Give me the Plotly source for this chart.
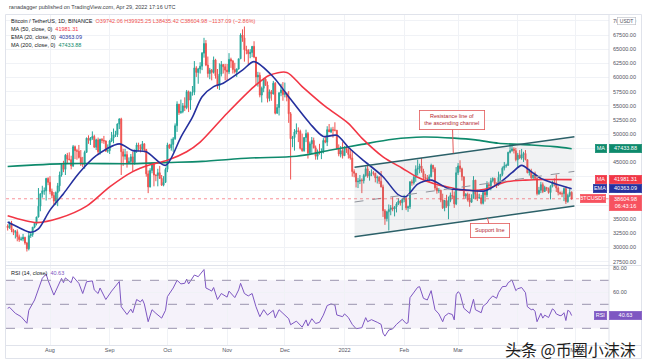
import plotly.graph_objects as go
import pandas as pd

W, H = 645, 361
def px(x): return x / W
def py(y): return 1 - y / H

# ---------------- data (thousand USDT) ----------------
first_open = 33.8
closes = [
    # Jul 10-31 2021
    33.5,34.3,33.1,32.7,32.8,31.9,31.4,31.5,31.8,30.8,29.8,32.1,32.3,33.6,34.3,35.4,37.3,39.5,40.0,40.0,42.2,41.5,
    # Aug
    39.9,39.2,38.2,39.7,40.9,42.8,44.6,43.8,46.3,45.6,45.5,44.4,47.8,47.1,47.0,45.9,44.7,44.7,46.8,49.3,48.9,49.3,49.6,47.7,49.0,46.9,49.1,48.9,48.8,47.0,47.1,
    # Sep
    48.8,49.3,49.9,49.9,51.8,52.7,46.9,46.1,46.4,44.9,45.2,46.0,45.0,47.1,48.1,47.8,47.3,48.3,47.3,43.0,40.7,43.6,44.9,42.8,42.7,43.2,42.2,41.0,41.5,43.8,
    # Oct
    48.1,47.6,48.2,49.2,51.5,55.3,53.8,54.0,55.0,54.7,57.5,56.0,57.4,57.4,61.7,60.9,61.5,62.0,64.3,66.0,62.2,60.7,61.3,60.9,63.1,60.3,58.5,60.6,62.3,61.9,61.3,
    # Nov
    61.0,63.2,62.9,61.4,61.0,61.5,63.3,67.5,67.0,64.9,64.8,64.2,64.4,65.5,63.6,60.1,60.4,56.9,58.1,59.7,58.7,56.3,57.5,57.1,59.0,53.7,54.7,57.3,57.8,57.0,
    # Dec
    57.2,56.5,53.6,49.2,49.4,50.4,50.6,50.5,47.5,47.1,49.4,50.1,46.7,48.3,48.9,47.6,46.1,46.8,46.7,46.9,48.9,48.6,50.8,50.4,50.8,50.7,50.7,47.5,46.5,47.1,46.2,
    # Jan 2022
    47.7,47.3,46.4,45.8,43.4,43.1,41.6,41.7,41.9,41.8,42.7,43.9,42.6,43.1,43.2,43.1,42.3,42.4,41.7,40.7,36.5,35.1,36.3,36.7,37.0,36.8,37.2,37.7,38.2,37.9,38.5,
    # Feb
    38.7,37.0,37.2,41.6,41.4,42.4,43.8,44.0,44.4,43.5,42.4,42.2,42.1,42.5,44.5,43.9,40.5,40.0,40.1,38.4,37.0,38.3,37.3,38.3,39.2,39.1,37.7,43.2,
    # Mar
    44.4,43.9,42.5,39.1,39.4,38.4,38.0,38.7,41.9,39.4,38.7,38.8,37.8,39.7,39.3,41.1,40.9,41.8,42.2,41.3,41.0,42.4,42.9,44.0,44.4,44.5,46.8,47.1,47.4,47.1,45.5,
    # Apr
    46.3,45.8,46.4,46.6,45.5,43.2,43.4,42.3,42.8,42.2,39.5,40.1,41.1,39.9,40.6,40.4,39.7,40.8,41.5,41.4,40.5,39.7,39.5,39.5,40.4,38.1,39.2,39.742,38.605,
]
highs = [
    34.1,34.6,34.7,33.3,33.1,33.2,32.3,31.9,32.4,31.9,31.0,32.8,32.6,33.6,34.5,35.4,40.5,39.5,40.9,40.6,42.3,42.4,
    42.6,40.4,39.8,39.9,41.4,43.4,44.7,45.3,46.5,46.7,46.8,46.2,48.1,48.0,47.4,48.1,47.2,46.0,47.1,49.4,49.8,49.5,50.5,49.9,49.2,49.4,49.2,49.3,49.7,48.9,48.2,
    49.0,50.4,51.0,50.6,51.9,52.8,52.9,47.4,47.4,47.0,45.9,46.5,46.9,47.3,48.5,48.5,48.2,48.8,48.4,47.4,43.6,44.0,45.0,45.0,42.9,43.9,44.4,42.8,42.6,44.1,
    48.5,48.3,49.2,49.5,51.9,55.8,55.3,56.1,55.5,56.5,57.8,57.7,57.5,58.5,62.9,62.0,61.7,62.7,64.5,67.0,66.6,63.7,61.7,61.5,63.7,63.3,61.5,62.5,62.9,62.3,62.4,
    62.4,64.3,63.5,63.1,62.6,61.6,63.3,67.8,68.5,69.0,65.6,65.0,65.0,65.5,66.4,63.6,61.0,60.9,58.4,59.8,60.0,59.3,57.9,57.8,59.4,59.2,55.3,57.4,58.9,59.2,
    59.1,57.4,57.6,53.9,49.7,50.9,51.9,51.2,50.8,50.1,49.5,50.8,50.4,48.7,49.5,49.4,48.0,47.3,48.3,47.5,49.3,49.6,51.4,51.8,51.2,51.3,52.1,50.7,48.2,47.9,48.6,
    47.9,47.9,47.6,47.5,47.1,43.8,43.1,42.3,42.8,42.2,43.0,44.3,44.5,43.5,43.8,43.5,43.2,42.7,42.6,43.5,41.1,36.8,36.5,37.6,37.5,38.9,37.3,38.0,38.7,38.4,38.7,
    39.3,38.9,37.4,41.7,42.0,42.7,44.5,45.5,44.8,45.8,43.9,43.0,42.8,42.9,44.8,44.6,44.2,40.9,40.5,40.2,39.5,38.4,39.3,39.0,39.7,40.3,39.9,44.2,
    44.9,45.4,44.1,42.5,39.6,39.7,39.5,39.4,42.6,41.9,40.2,39.5,39.3,39.9,39.9,41.7,41.5,42.3,42.4,42.3,41.5,43.4,43.0,44.3,45.1,44.8,46.9,48.2,48.1,47.7,47.6,
    46.7,47.2,47.4,46.9,47.2,45.5,43.9,43.9,42.8,43.4,42.4,40.7,41.6,41.5,40.9,40.7,40.6,41.0,41.8,42.2,42.9,40.8,39.9,39.9,40.6,40.8,39.5,40.4,39.925,
]
lows = [
    33.0,33.3,32.7,32.2,31.6,31.1,31.0,31.2,31.1,30.5,29.3,29.5,31.7,31.9,33.4,33.9,35.3,36.4,38.8,39.3,38.3,41.0,
    39.4,38.7,37.6,37.5,37.3,39.9,42.5,43.3,42.8,44.8,45.4,43.8,44.2,45.6,45.5,45.7,44.4,44.2,43.9,46.7,48.3,48.1,49.0,47.6,47.2,46.3,46.4,48.4,48.3,46.9,46.7,
    46.5,48.6,48.4,49.5,49.5,50.9,42.8,44.4,45.5,44.1,44.7,44.7,43.4,44.6,46.7,47.0,46.8,47.1,46.8,42.5,39.6,40.6,43.1,40.8,41.7,40.8,42.1,40.9,40.8,41.4,
    43.3,47.4,47.1,46.9,49.0,50.4,53.4,53.6,53.7,54.1,54.4,53.9,54.3,56.8,56.9,60.1,58.9,60.7,61.3,63.5,62.0,60.0,59.7,59.5,60.7,59.8,58.0,57.8,60.2,60.7,59.5,
    59.4,60.6,61.7,60.7,60.7,60.1,61.4,63.3,66.3,62.8,64.1,62.3,63.4,63.6,63.4,58.6,58.4,56.5,55.6,57.4,58.5,55.6,55.8,55.9,57.0,53.5,53.6,53.3,56.7,55.9,
    56.5,55.8,52.0,42.0,47.7,47.1,50.0,48.6,47.3,46.9,46.9,48.6,45.7,46.3,46.5,47.5,45.5,45.5,46.4,45.6,46.6,48.4,47.9,50.4,50.2,49.4,50.5,47.3,46.1,45.9,45.7,
    46.2,46.7,45.7,45.5,42.5,42.4,40.6,40.5,41.2,39.6,41.3,42.5,42.3,41.8,42.6,42.7,41.5,41.3,41.2,40.6,35.4,34.0,34.6,33.0,35.7,36.4,35.5,36.2,37.5,37.4,36.6,
    38.0,36.6,36.3,36.8,40.9,41.1,41.6,42.7,43.1,43.2,41.9,41.7,41.9,41.6,42.4,43.3,40.1,39.5,39.6,38.0,36.8,36.4,37.0,35.0,38.0,38.6,37.0,37.5,
    42.8,43.3,41.8,38.6,38.6,38.1,37.2,37.9,38.7,38.5,38.2,38.7,37.6,37.6,38.1,38.9,40.5,40.1,41.5,40.9,40.5,40.9,41.8,42.6,43.6,44.1,44.4,46.6,46.9,46.6,45.2,
    44.2,45.6,45.5,45.1,45.4,43.1,42.7,42.1,42.1,41.9,39.2,39.3,39.6,39.6,39.8,40.0,39.5,38.5,40.6,40.8,39.8,39.2,39.3,38.9,38.2,37.7,37.9,38.9,38.435,
]
assert len(closes) == len(highs) == len(lows) == 294

ema20_dates = ["2021-07-10","2021-07-16","2021-07-22","2021-07-26","2021-08-01","2021-08-08","2021-08-16","2021-08-25",
               "2021-09-06","2021-09-13","2021-09-20","2021-09-30","2021-10-08","2021-10-14","2021-10-19","2021-10-25",
               "2021-10-30","2021-11-09","2021-11-15","2021-11-25","2021-12-03","2021-12-14","2021-12-21","2021-12-28",
               "2022-01-03","2022-01-10","2022-01-21","2022-01-29","2022-02-02","2022-02-08","2022-02-15","2022-02-24",
               "2022-03-04","2022-03-15","2022-03-22","2022-03-29","2022-04-03","2022-04-08","2022-04-13","2022-04-20","2022-04-29"]
ema20_vals = [34.5,33.5,32.7,33.3,36.6,39.5,43.1,46.2,
              48.3,47.1,46.9,44.5,49.5,53.0,56.6,58.4,
              59.0,61.3,62.8,60.1,56.6,51.9,49.6,49.8,
              47.7,45.6,42.5,39.3,39.0,41.2,41.9,40.4,
              40.2,40.0,41.3,43.2,44.5,43.4,42.2,41.3,40.363]

ma50_dates = ["2021-07-10","2021-07-25","2021-08-06","2021-08-20","2021-09-01","2021-09-13","2021-09-22","2021-10-01",
              "2021-10-11","2021-10-18","2021-11-01","2021-11-15","2021-11-23","2021-12-02","2021-12-10","2021-12-22",
              "2022-01-03","2022-01-10","2022-01-21","2022-01-31","2022-02-08","2022-02-17","2022-02-26","2022-03-04",
              "2022-03-15","2022-03-26","2022-04-05","2022-04-15","2022-04-29"]
ma50_vals = [35.6,34.4,35.2,37.3,40.7,43.4,44.6,45.4,
             46.9,48.6,53.7,58.4,60.4,60.9,58.4,54.9,
             51.9,49.3,46.0,44.0,42.4,41.2,40.5,40.1,
             40.3,41.6,41.9,42.0,41.981]

ma200_dates = ["2021-07-10","2021-08-09","2021-09-13","2021-10-01","2021-10-19","2021-11-13","2021-12-07","2021-12-25",
               "2022-01-10","2022-01-26","2022-02-11","2022-02-27","2022-03-10","2022-03-22","2022-04-08","2022-04-20","2022-04-29"]
ma200_vals = [44.3,44.8,44.8,45.0,45.2,45.8,46.1,47.2,
              48.2,49.1,49.5,49.3,49.0,48.4,48.1,47.8,47.434]

rsi_dates = ["2021-07-10","2021-07-11","2021-07-14","2021-07-17","2021-07-20","2021-07-21","2021-07-24","2021-07-26","2021-07-28","2021-07-30",
    "2021-07-31","2021-08-03","2021-08-05","2021-08-07","2021-08-08","2021-08-09","2021-08-12","2021-08-13","2021-08-16","2021-08-18",
    "2021-08-20","2021-08-23","2021-08-24","2021-08-26","2021-08-27","2021-08-30","2021-09-02","2021-09-04","2021-09-06","2021-09-07",
    "2021-09-10","2021-09-12","2021-09-13","2021-09-15","2021-09-17","2021-09-18","2021-09-19","2021-09-21","2021-09-23","2021-09-25",
    "2021-09-28","2021-09-30","2021-10-01","2021-10-04","2021-10-06","2021-10-08","2021-10-10","2021-10-11","2021-10-12","2021-10-15",
    "2021-10-17","2021-10-20","2021-10-21","2021-10-23","2021-10-24","2021-10-25","2021-10-27","2021-10-29","2021-11-01","2021-11-02",
    "2021-11-05","2021-11-07","2021-11-08","2021-11-10","2021-11-12","2021-11-14","2021-11-16","2021-11-18","2021-11-20","2021-11-22",
    "2021-11-25","2021-11-26","2021-11-28","2021-11-30","2021-12-03","2021-12-04","2021-12-07","2021-12-10","2021-12-12","2021-12-13",
    "2021-12-15","2021-12-17","2021-12-19","2021-12-21","2021-12-23","2021-12-25","2021-12-27","2021-12-28","2021-12-31","2022-01-01",
    "2022-01-03","2022-01-05","2022-01-07","2022-01-10","2022-01-12","2022-01-13","2022-01-15","2022-01-18","2022-01-20","2022-01-21",
    "2022-01-22","2022-01-24","2022-01-26","2022-01-28","2022-01-31","2022-02-02","2022-02-03","2022-02-04","2022-02-06","2022-02-08",
    "2022-02-09","2022-02-11","2022-02-13","2022-02-15","2022-02-17","2022-02-19","2022-02-21","2022-02-22","2022-02-24","2022-02-26",
    "2022-02-27","2022-02-28","2022-03-01","2022-03-02","2022-03-04","2022-03-07","2022-03-09","2022-03-10","2022-03-13","2022-03-14",
    "2022-03-16","2022-03-17","2022-03-19","2022-03-21","2022-03-22","2022-03-24","2022-03-26","2022-03-27","2022-03-29","2022-03-31",
    "2022-04-01","2022-04-03","2022-04-05","2022-04-06","2022-04-08","2022-04-09","2022-04-10","2022-04-11","2022-04-13","2022-04-14",
    "2022-04-15","2022-04-17","2022-04-19","2022-04-20","2022-04-21","2022-04-23","2022-04-24","2022-04-25","2022-04-26","2022-04-27",
    "2022-04-28","2022-04-29"]
rsi_vals = [46.7,47.5,42.5,39.7,34.2,45,53.6,62,71.7,75.2,
    70,57.7,64.7,71.6,68,72,68,73,67.5,59,
    68.8,69.5,62,59,63.6,54,61,64.7,69,48,
    41.5,46,43,54,52,54,50.3,35.5,45.5,42.5,
    38.5,45,56.4,63.6,70,67,67.5,71,67,74.4,
    73,79,63.6,62,61,64,54,59,56,61,
    55.6,62,67.5,59,57,59,48,39.7,45.5,41,
    45,38.7,45.5,42.5,38,33,36,31,37,32,
    38,34,35,41,49,50.3,49.4,41.1,39.7,42,
    39,33.3,29.7,30.5,38.9,35.5,37.2,35,33.3,26,
    23.5,28.6,29.5,33.3,37.5,34,34.7,55.5,59.7,64.2,
    64.7,55,53.6,61.4,45.5,42,35.5,40,42.5,41.5,
    37,58,60.5,59,46.7,42.5,54.2,45.5,43,48.5,
    51,53.6,57,55,59.7,64.7,65,68,70.3,61.4,
    63,64,59.7,48,45.5,46,44,35.5,42.5,38.5,
    41,39,46.2,45,42,40.5,41,43,36.5,45,
    44,40.63]
assert len(rsi_dates) == len(rsi_vals)

month_ticks = ["2021-08-01","2021-09-01","2021-10-01","2021-11-01","2021-12-01","2022-01-01",
               "2022-02-01","2022-03-01","2022-04-01","2022-05-01"]
month_labels = ["Aug","Sep","Oct","Nov","Dec","2022","Feb","Mar","Apr","May"]
price_ticks = list(range(27500, 70001, 2500))

# channel drawing anchors (date, price)
chan_dates = ["2022-01-06 05:00", "2022-04-30 10:00"]
chan_top = [44158, 49557]
chan_bot = [31914, 37331]

last = dict(o="39742.06", h="39925.25", l="38435.42", c="38604.98", chg="\u22121137.09 (\u22122.86%)")
last_close = 38604.98
ma50_last, ema20_last, ma200_last, rsi_last = 41981.31, 40363.09, 47433.88, 40.63

# ---------------- build ----------------
K = 1000.0
dates = pd.date_range("2021-07-10", periods=len(closes), freq="D")
c = [v * K for v in closes]
o = [first_open * K] + c[:-1]
hi = [max(a * K, b, d) for a, b, d in zip(highs, o, c)]
lo = [min(a * K, b, d) for a, b, d in zip(lows, o, c)]

UP, DN = "#26a69a", "#ef5350"
RED, BLUE, GREEN, PURPLE = "#f23645", "#25309e", "#0e8a6c", "#7e57c2"
FONT = "Liberation Sans"

fig = go.Figure()

fig.add_trace(go.Scatter(x=[chan_dates[0], chan_dates[1], chan_dates[1], chan_dates[0]],
                         y=[chan_top[0], chan_top[1], chan_bot[1], chan_bot[0]],
                         fill="toself", fillcolor="rgba(140,146,160,0.12)", mode="none",
                         xaxis="x", yaxis="y", hoverinfo="skip"))

fig.add_trace(go.Candlestick(x=dates, open=o, high=hi, low=lo, close=c,
                             increasing=dict(line=dict(color=UP, width=1), fillcolor=UP),
                             decreasing=dict(line=dict(color=DN, width=1), fillcolor=DN),
                             whiskerwidth=0, xaxis="x", yaxis="y", hoverinfo="skip"))

fig.add_trace(go.Scatter(x=ma200_dates, y=[v * K for v in ma200_vals], mode="lines",
                         line=dict(color=GREEN, width=1.6, shape="spline", smoothing=0.8), xaxis="x", yaxis="y"))
fig.add_trace(go.Scatter(x=ma50_dates, y=[v * K for v in ma50_vals], mode="lines",
                         line=dict(color=RED, width=1.6, shape="spline", smoothing=0.8), xaxis="x", yaxis="y"))
fig.add_trace(go.Scatter(x=ema20_dates, y=[v * K for v in ema20_vals], mode="lines",
                         line=dict(color=BLUE, width=1.6, shape="spline", smoothing=0.8), xaxis="x", yaxis="y"))

mid = [(a + b) / 2 for a, b in zip(chan_top, chan_bot)]
fig.add_trace(go.Scatter(x=chan_dates, y=chan_top, mode="lines", line=dict(color="#2b6068", width=1.5), xaxis="x", yaxis="y"))
fig.add_trace(go.Scatter(x=chan_dates, y=chan_bot, mode="lines", line=dict(color="#2b6068", width=1.5), xaxis="x", yaxis="y"))
fig.add_trace(go.Scatter(x=chan_dates, y=mid, mode="lines", line=dict(color="#8f939c", width=1, dash="dash"), xaxis="x", yaxis="y"))

fig.add_trace(go.Scatter(x=rsi_dates, y=rsi_vals, mode="lines", line=dict(color=PURPLE, width=1),
                         xaxis="x2", yaxis="y2"))

xrange = ["2021-07-09 03:26", "2022-05-18 09:26"]
grid = "#f0f2f6"
tickfont = dict(family=FONT, size=5.5, color="#50535e")

fig.update_layout(
    width=W, height=H, margin=dict(l=0, r=0, t=0, b=0, autoexpand=False),
    paper_bgcolor="white", plot_bgcolor="white", showlegend=False, hovermode=False,
    xaxis=dict(domain=[px(6), px(609)], range=xrange, type="date", tickvals=month_ticks,
               showticklabels=False, showgrid=True, gridcolor=grid, zeroline=False,
               rangeslider=dict(visible=False), anchor="y", automargin=False),
    yaxis=dict(domain=[py(265), py(15)], range=[26921, 71029], side="right", tickvals=price_ticks,
               tickformat=".2f", showgrid=True, gridcolor=grid, zeroline=False, tickfont=tickfont,
               anchor="x", ticks="", ticklabelstandoff=3, automargin=False),
    xaxis2=dict(domain=[px(6), px(609)], range=xrange, type="date", tickvals=month_ticks,
                ticktext=month_labels, showgrid=True, gridcolor=grid, zeroline=False,
                tickfont=tickfont, anchor="y2", ticks="", automargin=False),
    yaxis2=dict(domain=[py(345), py(265)], range=[16.1, 82.75], side="right", tickvals=[60, 80],
                tickformat=".2f", showgrid=True, gridcolor=grid, zeroline=False, tickfont=tickfont,
                anchor="x2", ticks="", ticklabelstandoff=3, automargin=False),
)

shapes = [
    dict(type="rect", xref="x2 domain", yref="y2", x0=0, x1=1, y0=30, y1=70,
         fillcolor="rgba(126,87,194,0.08)", line=dict(width=0), layer="below"),
]
for lvl in (70, 50, 30):
    shapes.append(dict(type="line", xref="x2 domain", yref="y2", x0=0, x1=1, y0=lvl, y1=lvl,
                       line=dict(color="#9a94ae", width=1, dash="dash")))
shapes.append(dict(type="line", xref="x domain", yref="y", x0=0, x1=1, y0=last_close, y1=last_close,
                   line=dict(color="rgba(242,54,69,0.55)", width=1, dash="dot")))
bc = "#e0e3eb"
shapes += [
    dict(type="rect", xref="paper", yref="paper", x0=px(5.5), x1=px(641.5), y0=py(358.5), y1=py(14.5),
         line=dict(color=bc, width=1)),
    dict(type="line", xref="paper", yref="paper", x0=px(5.5), x1=px(641.5), y0=py(265.5), y1=py(265.5),
         line=dict(color=bc, width=1)),
    dict(type="line", xref="paper", yref="paper", x0=px(5.5), x1=px(641.5), y0=py(345.5), y1=py(345.5),
         line=dict(color=bc, width=1)),
    dict(type="line", xref="paper", yref="paper", x0=px(609), x1=px(609), y0=py(358.5), y1=py(14.5),
         line=dict(color=bc, width=1)),
]
fig.update_layout(shapes=shapes)

ann = []
def text(x, y, t, size=5.5, color="#131722", anchor="left", family=FONT, **kw):
    ann.append(dict(xref="paper", yref="paper", x=px(x), y=py(y), text=t, showarrow=False,
                    xanchor=anchor, yanchor="middle", font=dict(family=family, size=size, color=color), **kw))

text(7, 7, "ranadagger published on TradingView.com, Apr 29, 2022 17:16 UTC", size=5.5, color="#3d3f47")
text(9, 21, "Bitcoin / TetherUS, 1D, BINANCE  <span style='color:%s'>O%s H%s L%s C%s %s</span>"
     % (DN, last["o"], last["h"], last["l"], last["c"], last["chg"]), size=5.5)
text(9, 29, "MA (50, close, 0)  <span style='color:%s'>%.2f</span>" % (RED, ma50_last), size=5.5)
text(9, 37, "EMA (20, close, 0)  <span style='color:%s'>%.2f</span>" % (BLUE, ema20_last), size=5.5)
text(9, 45, "MA (200, close, 0)  <span style='color:%s'>%.2f</span>" % (GREEN, ma200_last), size=5.5)
text(9, 273, "RSI (14, close)  <span style='color:%s'>%.2f</span>" % (PURPLE, rsi_last), size=5.5)

ann.append(dict(xref="paper", yref="paper", x=px(570), y=py(349), text="头条 @币圈小沫沫", showarrow=False,
                xanchor="center", yanchor="middle",
                font=dict(family="Noto Sans CJK SC", size=16, color="#1c1c1c")))

def badge(xc, w, yval, yref, t, bg, h=7.5, fc="white", yanchor="middle", yshift=0, border=None):
    ann.append(dict(xref="paper", yref=yref, x=px(xc), y=yval, text=t, showarrow=False,
                    xanchor="center", yanchor=yanchor, width=w, height=h, bgcolor=bg,
                    bordercolor=border or bg, borderwidth=0.5, borderpad=0, yshift=yshift,
                    font=dict(family=FONT, size=5.5, color=fc)))

badge(600.5, 11, ma200_last, "y", "MA", GREEN)
badge(625, 32, ma200_last, "y", "%.2f" % ma200_last, GREEN)
badge(600.5, 11, ma50_last, "y", "MA", RED)
badge(625, 32, ma50_last, "y", "%.2f" % ma50_last, RED)
badge(600, 13, ema20_last, "y", "EMA", BLUE)
badge(625, 32, ema20_last, "y", "%.2f" % ema20_last, BLUE)
badge(593, 25, last_close, "y", "BTCUSDT", "#f7525f")
badge(625, 32, last_close, "y", "%.2f<br>06:43:16" % last_close, "#f7525f", h=14.5, yanchor="top", yshift=3.7)
badge(600.5, 12, rsi_last, "y2", "RSI", PURPLE)
badge(625, 32, rsi_last, "y2", "%.2f" % rsi_last, PURPLE)
ann.append(dict(xref="paper", yref="paper", x=px(626), y=py(20.8), text="USDT", showarrow=False,
                xanchor="center", yanchor="middle", width=18, height=7, bgcolor="white",
                bordercolor="#b8bbc4", borderwidth=0.6, borderpad=0,
                font=dict(family=FONT, size=5, color="#50535e")))

ann.append(dict(x="2022-02-26 12:00", y=46650, xref="x", yref="y", ax=-1, ay=-33,
                text="Resistance line of<br>the ascending channel", showarrow=True, arrowhead=0,
                arrowcolor="#e35b5b", arrowwidth=1, bgcolor="white", bordercolor="#e35b5b",
                borderwidth=0.8, borderpad=2, width=60, height=14,
                font=dict(family=FONT, size=5.5, color="#b3262e")))
ann.append(dict(x="2022-03-16 06:00", y=35250, xref="x", yref="y", ax=3, ay=13,
                text="Support line", showarrow=True, arrowhead=0,
                arrowcolor="#e35b5b", arrowwidth=1, bgcolor="white", bordercolor="#e35b5b",
                borderwidth=0.8, borderpad=2, width=34, height=9,
                font=dict(family=FONT, size=5.5, color="#b3262e")))

fig.update_layout(annotations=ann)
fig.write_html("out.html", config={"displayModeBar": False, "staticPlot": True},
               post_script="document.body.style.margin='0';document.body.style.padding='0';"
                           "document.body.style.overflow='hidden';")
